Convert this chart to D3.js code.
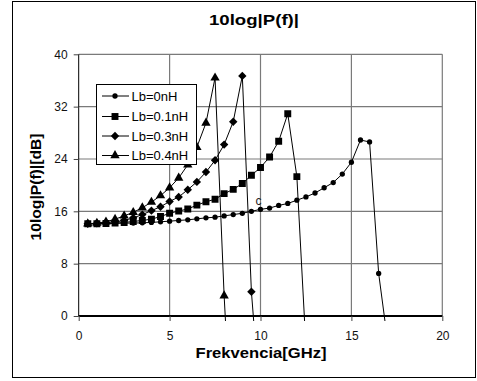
<!DOCTYPE html>
<html>
<head>
<meta charset="utf-8">
<script src="https://cdn.jsdelivr.net/npm/d3@7"></script>
<style>
  body { margin: 0; background: #fff; }
  text { font-family: "Liberation Sans", Arial, sans-serif; }
</style>
</head>
<body>
<div id="chart"></div>
<script>
// frequency axis, GHz, step 0.5
const freq = d3.range(1, 35).map(i => i * 0.5);

const lb0 = [14.1, 14.1, 14.1, 14.15, 14.2, 14.2, 14.25, 14.3, 14.4, 14.5, 14.6, 14.7, 14.85, 15.0,
  15.1, 15.3, 15.5, 15.7, 16.0, 16.3, 16.5, 16.9, 17.2, 17.7, 18.2, 18.8, 19.6, 20.4, 21.7, 23.5,
  26.9, 26.6, 6.5, -4];
const lb01 = [14.1, 14.1, 14.15, 14.2, 14.3, 14.45, 14.6, 14.8, 15.2, 15.7, 16.05, 16.35, 16.95, 17.45,
  17.85, 18.7, 19.35, 20.25, 21.5, 22.7, 24.3, 26.7, 30.9, 21.3, -4.7];
const lb03 = [14.1, 14.15, 14.25, 14.4, 14.6, 15.0, 15.5, 16.1, 16.7, 17.5, 18.2, 19.3, 20.5, 22.0,
  23.8, 26.2, 29.7, 36.7, 3.7, -14];
const lb04 = [14.1, 14.2, 14.4, 14.8, 15.3, 15.85, 16.55, 17.4, 18.4, 19.6, 21.1, 23.1, 25.8, 29.5,
  36.4, 3.1, -23];

const seriesNames = ['Lb=0nH', 'Lb=0.1nH', 'Lb=0.3nH', 'Lb=0.4nH'];
const seriesValues = [lb0, lb01, lb03, lb04];
const markers = ['circle', 'square', 'diamond', 'triangle'];

const xTicks = [0, 5, 10, 15, 20];
const yTicks = [0, 8, 16, 24, 32, 40];

const W = 477, H = 381;
const svg = d3.select('#chart').append('svg')
  .attr('width', W)
  .attr('height', H);

// outer frame
svg.append('rect')
  .attr('x', 12.5).attr('y', 1.5)
  .attr('width', 463).attr('height', 376)
  .attr('fill', 'none').attr('stroke', '#000');

const x = d3.scaleLinear().domain([0, 20]).range([78.7, 442.3]);
const y = d3.scaleLinear().domain([0, 40]).range([316, 54.3]);

// grid
const grid = svg.append('g').attr('stroke', '#7a7a7a').attr('stroke-width', 1.2);
grid.selectAll('line.h')
  .data(yTicks.filter(d => d > 0))
  .join('line')
  .attr('x1', x(0)).attr('x2', x(20))
  .attr('y1', d => y(d)).attr('y2', d => y(d));
grid.selectAll('line.v')
  .data(xTicks.filter(d => d > 0))
  .join('line')
  .attr('x1', d => x(d)).attr('x2', d => x(d))
  .attr('y1', y(0)).attr('y2', y(40));

// axes
const yAxis = svg.append('g')
  .attr('transform', `translate(${x(0)},0)`)
  .call(d3.axisLeft(y).tickValues(yTicks).tickSize(5).tickPadding(6));
const xAxis = svg.append('g')
  .attr('transform', `translate(0,${y(0)})`)
  .call(d3.axisBottom(x).tickValues(xTicks).tickSize(5).tickPadding(10));
[xAxis, yAxis].forEach(a => {
  a.selectAll('text').attr('font-size', 12).attr('fill', '#111')
    .style('font-family', '"Liberation Sans", Arial, sans-serif');
  a.selectAll('.tick line').attr('stroke', '#444');
});
yAxis.select('.domain').attr('d', `M0,${y(40)}V${y(0)}`).attr('stroke', '#000');
xAxis.select('.domain').attr('d', `M${x(0)},0H${x(20)}`).attr('stroke', '#000').attr('stroke-width', 2);

// clip for the series
svg.append('clipPath').attr('id', 'clip')
  .append('rect')
  .attr('x', x(0)).attr('y', y(40))
  .attr('width', x(20) - x(0)).attr('height', y(0) - y(40) + 5);

// excel-like markers
const markerPath = (type) => {
  if (type === 'circle') return d3.symbol(d3.symbolCircle, 22)();
  if (type === 'square') return d3.symbol(d3.symbolSquare, 48)();
  if (type === 'triangle') return d3.symbol(d3.symbolTriangle, 38)();
  const r = 4.2;
  return `M0,${-r}L${r},0L0,${r}L${-r},0Z`;
};

const line = d3.line().x(d => x(d[0])).y(d => y(d[1]));
const plot = svg.append('g').attr('clip-path', 'url(#clip)');

seriesValues.forEach((vals, i) => {
  const pts = vals.map((v, j) => [freq[j], v]);
  plot.append('path')
    .datum(pts)
    .attr('d', line)
    .attr('fill', 'none')
    .attr('stroke', '#000')
    .attr('stroke-width', 1);
  plot.append('g')
    .selectAll('path')
    .data(pts.filter(d => d[1] >= 0))
    .join('path')
    .attr('transform', d => `translate(${x(d[0])},${y(d[1])})`)
    .attr('d', markerPath(markers[i]))
    .attr('fill', '#000');
});

// stray label
svg.append('text')
  .attr('x', 255.5).attr('y', 205)
  .attr('font-size', 12)
  .attr('fill', '#222')
  .text('c');

// legend
const legend = svg.append('g');
legend.append('rect')
  .attr('x', 96.5).attr('y', 84.5)
  .attr('width', 100).attr('height', 80)
  .attr('fill', '#fff').attr('stroke', '#000');
const rowY = [96, 116.5, 136, 155.5];
seriesNames.forEach((name, i) => {
  const g = legend.append('g').attr('transform', `translate(0,${rowY[i]})`);
  g.append('line').attr('x1', 102).attr('x2', 129).attr('stroke', '#000');
  g.append('path').attr('transform', 'translate(115,0)').attr('d', markerPath(markers[i])).attr('fill', '#000');
  g.append('text').attr('x', 131.5).attr('y', 4.5).attr('font-size', 13).text(name);
});

// titles
svg.append('text')
  .attr('x', 254).attr('y', 25)
  .attr('text-anchor', 'middle')
  .attr('font-size', 15).attr('font-weight', 'bold')
  .attr('textLength', 90).attr('lengthAdjust', 'spacingAndGlyphs')
  .text('10log|P(f)|');

svg.append('text')
  .attr('x', 261).attr('y', 358)
  .attr('text-anchor', 'middle')
  .attr('font-size', 15).attr('font-weight', 'bold')
  .attr('textLength', 131).attr('lengthAdjust', 'spacingAndGlyphs')
  .text('Frekvencia[GHz]');

svg.append('text')
  .attr('transform', 'translate(41,187) rotate(-90)')
  .attr('text-anchor', 'middle')
  .attr('font-size', 15).attr('font-weight', 'bold')
  .attr('textLength', 107).attr('lengthAdjust', 'spacingAndGlyphs')
  .text('10log|P(f)|[dB]');
</script>
</body>
</html>
